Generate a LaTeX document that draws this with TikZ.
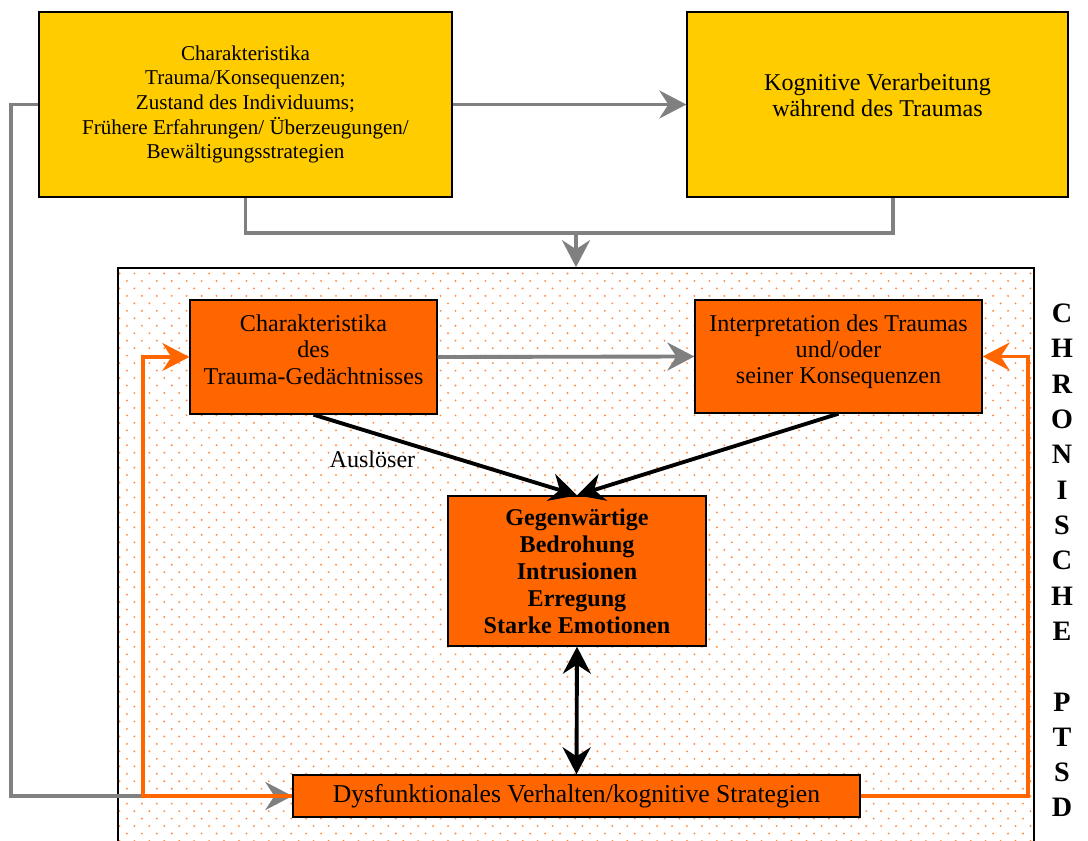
\documentclass[tikz,border=0pt]{standalone}
\usepackage{fontspec}
\setmainfont{Liberation Serif}
\usetikzlibrary{arrows.meta,patterns}
\definecolor{boxyellow}{HTML}{FFCC00}
\definecolor{boxorange}{HTML}{FF6600}
\definecolor{dotorange}{HTML}{FF8C40}
\definecolor{linegray}{HTML}{808080}
% staggered orange dots for the PTSD frame
\pgfdeclarepatternformonly{orangedots}{\pgfqpoint{-1pt}{-1pt}}{\pgfqpoint{5.5pt}{5.5pt}}{\pgfqpoint{8.5pt}{8.5pt}}{%
  \pgfpathcircle{\pgfqpoint{0pt}{0pt}}{0.6pt}%
  \pgfpathcircle{\pgfqpoint{4.25pt}{4.25pt}}{0.6pt}%
  \pgfusepath{fill}}

\begin{document}
\begin{tikzpicture}[x=0.02cm, y=-0.02cm,
    >={Stealth[length=5.4mm, width=5.6mm, inset=1.8mm]},
    every node/.style={font=\fontsize{13.7}{14.9}\selectfont, align=center},
    ybox/.style={draw=black, line width=0.8pt, fill=boxyellow},
    obox/.style={draw=black, line width=0.8pt, fill=boxorange},
    grayline/.style={linegray, line width=2.2pt},
    blackline/.style={black, line width=2.2pt},
    orangeline/.style={boxorange, line width=2.2pt}]
  \useasboundingbox (0,0) rectangle (1088,841);
  \clip (0,0) rectangle (1088,841);

  % PTSD frame
  \node[draw=black, line width=1pt, preaction={fill=white}, pattern=orangedots, pattern color=dotorange,
        minimum width=18.32cm, minimum height=11.64cm] (ptsd) at (576,559) {};

  % top row
  \node[ybox, minimum width=8.26cm, minimum height=3.7cm, font=\fontsize{12}{14}\selectfont] (ctop) at (245.5,104.5)
    {Charakteristika\\Trauma/Konsequenzen;\\Zustand des Individuums;\\Frühere Erfahrungen/ Überzeugungen/\\Bewältigungsstrategien};
  \node[ybox, minimum width=7.62cm, minimum height=3.7cm, text depth=0.38cm] (kog) at (877.5,104.5)
    {Kognitive Verarbeitung\\während des Traumas};

  % boxes inside the frame
  \node[obox, minimum width=4.94cm, minimum height=2.28cm, text depth=0.3cm] (gedaecht) at (313.5,357)
    {Charakteristika\\des\\Trauma-Gedächtnisses};
  \node[obox, minimum width=5.74cm, minimum height=2.26cm, text depth=0.3cm] (interp) at (838.5,356.5)
    {Interpretation des Traumas\\und/oder\\seiner Konsequenzen};
  \node[obox, minimum width=5.16cm, minimum height=3.0cm, font=\bfseries\fontsize{13.7}{15.4}\selectfont] (bedroh) at (577,571)
    {Gegenwärtige\\Bedrohung\\Intrusionen\\Erregung\\Starke Emotionen};
  \node[obox, minimum width=11.34cm, minimum height=0.84cm, font=\fontsize{14.6}{15}\selectfont] (dysf) at (576.5,796)
    {Dysfunktionales Verhalten/kognitive Strategien};

  % side label
  \node[font=\bfseries\fontsize{16}{20.1}\selectfont] (chron) at (1062,560.5)
    {C\\H\\R\\O\\N\\I\\S\\C\\H\\E\\\mbox{}\\P\\T\\S\\D};

  % helper points
  \coordinate (mid) at (576,233);
  \coordinate (kogfoot) at ([xshift=0.31cm]kog.south);
  \coordinate (lrail) at (143,0);
  \coordinate (rrail) at (1028,0);

  % gray connectors
  \draw[grayline, ->] (ctop.east) -- (kog.west);
  \draw[grayline] (ctop.south) |- (kogfoot |- mid) -- (kogfoot);
  \draw[grayline, ->] (mid) -- (ptsd.north);
  \draw[grayline, ->] (ctop.west) -- ++(-27,0) |- (dysf.west);
  \draw[grayline, ->] (gedaecht.east) -- (interp.west);

  % black connectors
  \draw[blackline, ->] (gedaecht.south) -- node[pos=0.4, anchor=north east, inner sep=1pt] (trig) {Auslöser} (bedroh.north);
  \draw[blackline, ->] (interp.south) -- (bedroh.north);
  \draw[blackline, <->] (bedroh.south) -- (dysf.north);

  % orange feedback loops
  \draw[orangeline, ->] (dysf.west) -| (lrail |- gedaecht.west) -- (gedaecht.west);
  \draw[orangeline, ->] (dysf.east) -| (rrail |- interp.east) -- (interp.east);
\end{tikzpicture}
\end{document}
